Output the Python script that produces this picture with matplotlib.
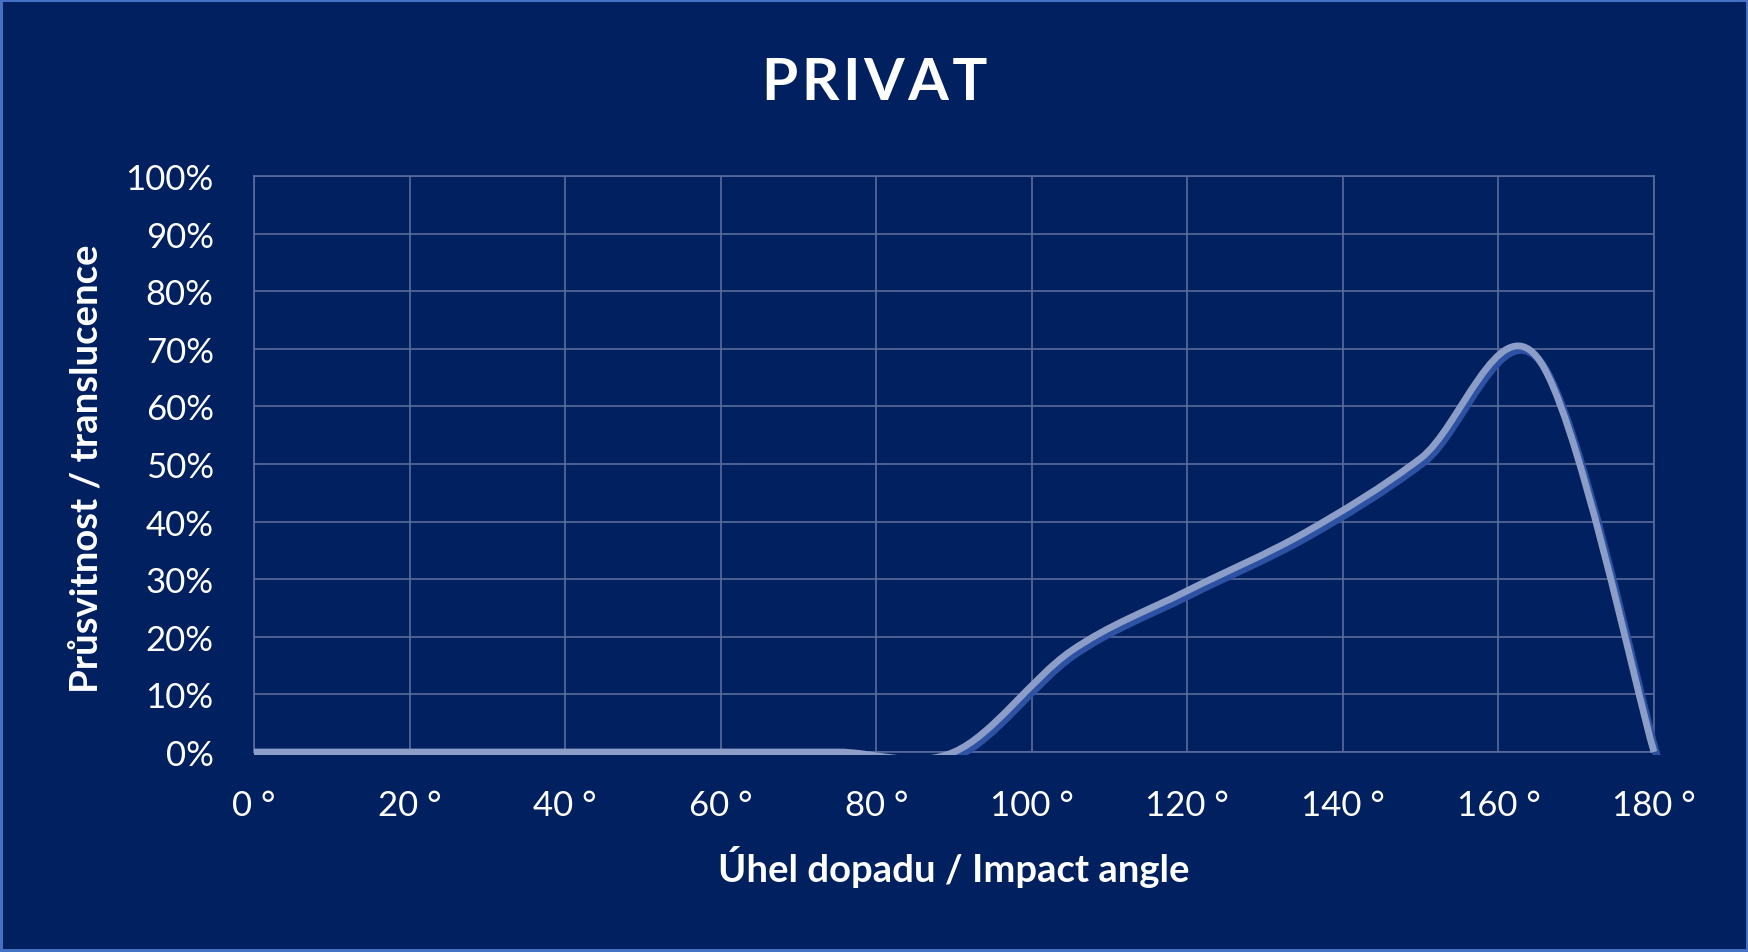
import matplotlib
matplotlib.use('Agg')
import matplotlib.pyplot as plt
import matplotlib.transforms as mtransforms
from matplotlib.path import Path
from matplotlib.patches import PathPatch, Rectangle
from matplotlib.ticker import PercentFormatter, FixedLocator, FuncFormatter

plt.rcParams['font.family'] = ['Lato', 'DejaVu Sans']

'~~~~~~~~~~ DATA (read off the chart) ~~~~~~~~~~'
angles = [0, 15, 30, 45, 60, 75, 90, 105, 120, 135, 150, 165, 180]
translucence = [0, 0, 0, 0, 0, 0, 0, 0.175, 0.28, 0.38, 0.51, 0.685, 0]

title = 'PRIVAT'
x_label = 'Úhel dopadu / Impact angle'
y_label = 'Průsvitnost / translucence'
x_ticks = [0, 20, 40, 60, 80, 100, 120, 140, 160, 180]
y_ticks = [0, 0.1, 0.2, 0.3, 0.4, 0.5, 0.6, 0.7, 0.8, 0.9, 1.0]

bg = '#002060'
grid_col = '#5A6B9C'
W, H = 1749, 953


def smooth_path(xs, ys):
    # excel style smoothed line: cubic bezier, control points from neighbours (1/6)
    pts = list(zip(xs, ys))
    n = len(pts)
    verts = [pts[0]]
    codes = [Path.MOVETO]
    for i in range(n - 1):
        p0 = pts[i - 1] if i > 0 else pts[i]
        p1 = pts[i]
        p2 = pts[i + 1]
        p3 = pts[i + 2] if i + 2 < n else pts[i + 1]
        c1 = (p1[0] + (p2[0] - p0[0]) / 6, p1[1] + (p2[1] - p0[1]) / 6)
        c2 = (p2[0] - (p3[0] - p1[0]) / 6, p2[1] - (p3[1] - p1[1]) / 6)
        verts += [c1, c2, p2]
        codes += [Path.CURVE4] * 3
    return Path(verts, codes)


fig = plt.figure(figsize=(W / 100, H / 100), dpi=100, facecolor=bg)
ax = fig.add_axes([254 / W, 1 - 753 / H, 1400 / W, 576 / H])
ax.set_facecolor(bg)

ax.set_xlim(0, 180)
ax.set_ylim(0, 1)

ax.xaxis.set_major_locator(FixedLocator(x_ticks))
ax.yaxis.set_major_locator(FixedLocator(y_ticks))
ax.xaxis.set_major_formatter(FuncFormatter(lambda v, p: f'{v:.0f} °'))
ax.yaxis.set_major_formatter(PercentFormatter(1.0, decimals=0))
ax.tick_params(axis='x', length=0, pad=27, labelsize=25, labelcolor='white')
ax.tick_params(axis='y', length=0, pad=29, labelsize=25, labelcolor='white')

ax.grid(True, color=grid_col, linewidth=1.2)
ax.set_axisbelow(True)
for s in ax.spines.values():
    s.set_color(grid_col)
    s.set_linewidth(1.2)

# the series: blue shadow shifted down-right, light line on top
path = smooth_path(angles, translucence)
clip = Rectangle((-0.01, -0.005), 1.02, 1.01, transform=ax.transAxes, facecolor='none', edgecolor='none')
ax.add_patch(clip)

shift = mtransforms.ScaledTranslation(2.2 / 72, -3.0 / 72, fig.dpi_scale_trans)
shadow = PathPatch(path, fill=False, edgecolor='#2D52A3', linewidth=5.4, capstyle='butt',
                   joinstyle='round', zorder=3, transform=ax.transData + shift)
ax.add_patch(shadow)
shadow.set_clip_path(clip)

line = PathPatch(path, fill=False, edgecolor='#8C9DC8', linewidth=4.9, capstyle='butt',
                 joinstyle='round', zorder=4)
ax.add_patch(line)
line.set_clip_path(clip)

fig.text(0.5, 1 - 100 / H, '\u200a'.join(title), ha='center', va='baseline', fontsize=42,
         fontweight='bold', color='white')
fig.text((254 + 1654) / 2 / W, 1 - 882 / H, x_label, ha='center', va='baseline',
         fontsize=27.5, fontweight='bold', color='white')
fig.text(98 / W, 1 - 469 / H, y_label, ha='center', va='baseline', rotation=90,
         rotation_mode='anchor', fontsize=27.5, fontweight='bold', color='white')

# blue frame around the chart
fig.patches.append(Rectangle((0, 0), 1, 1, transform=fig.transFigure, fill=False,
                             edgecolor='#4472C4', linewidth=4.3))

fig.savefig('out.png', dpi=100, facecolor=bg)
